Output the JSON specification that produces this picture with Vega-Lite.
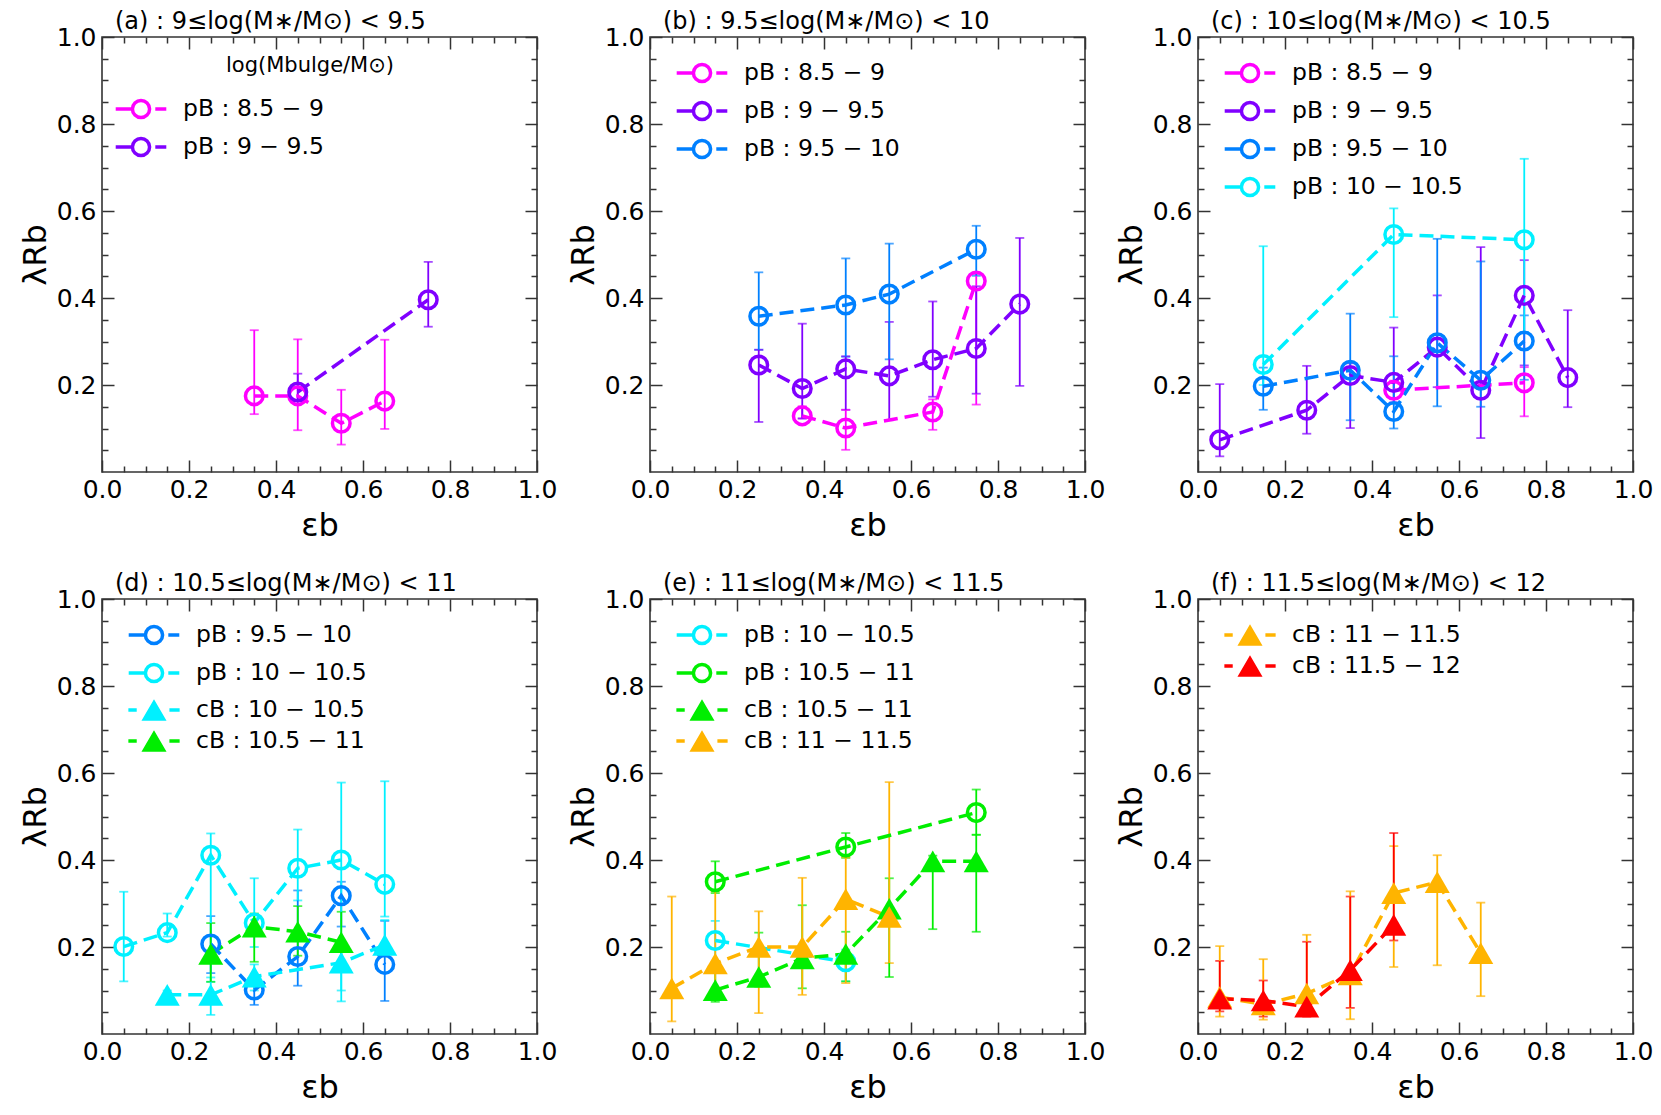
{
  "$schema": "https://vega.github.io/schema/vega-lite/v6.json",
  "background": "white",
  "padding": {"left": 18, "top": 9, "right": 5, "bottom": 5},
  "datasets": {
    "pts": [
      {"p": "a", "s": "pB : 8.5 − 9", "t": "pB", "x": 0.35, "y": 0.175, "lo": 0.133, "hi": 0.326},
      {"p": "a", "s": "pB : 8.5 − 9", "t": "pB", "x": 0.45, "y": 0.175, "lo": 0.096, "hi": 0.305},
      {"p": "a", "s": "pB : 8.5 − 9", "t": "pB", "x": 0.55, "y": 0.112, "lo": 0.063, "hi": 0.189},
      {"p": "a", "s": "pB : 8.5 − 9", "t": "pB", "x": 0.65, "y": 0.163, "lo": 0.099, "hi": 0.304},
      {"p": "a", "s": "pB : 9 − 9.5", "t": "pB", "x": 0.45, "y": 0.184, "lo": 0.163, "hi": 0.226},
      {"p": "a", "s": "pB : 9 − 9.5", "t": "pB", "x": 0.75, "y": 0.396, "lo": 0.334, "hi": 0.483},

      {"p": "b", "s": "pB : 8.5 − 9", "t": "pB", "x": 0.35, "y": 0.129, "lo": 0.123, "hi": 0.151},
      {"p": "b", "s": "pB : 8.5 − 9", "t": "pB", "x": 0.45, "y": 0.101, "lo": 0.051, "hi": 0.143},
      {"p": "b", "s": "pB : 8.5 − 9", "t": "pB", "x": 0.65, "y": 0.138, "lo": 0.097, "hi": 0.167},
      {"p": "b", "s": "pB : 8.5 − 9", "t": "pB", "x": 0.75, "y": 0.439, "lo": 0.155, "hi": 0.455},
      {"p": "b", "s": "pB : 9 − 9.5", "t": "pB", "x": 0.25, "y": 0.246, "lo": 0.115, "hi": 0.281},
      {"p": "b", "s": "pB : 9 − 9.5", "t": "pB", "x": 0.35, "y": 0.192, "lo": 0.123, "hi": 0.341},
      {"p": "b", "s": "pB : 9 − 9.5", "t": "pB", "x": 0.45, "y": 0.237, "lo": 0.143, "hi": 0.266},
      {"p": "b", "s": "pB : 9 − 9.5", "t": "pB", "x": 0.55, "y": 0.221, "lo": 0.119, "hi": 0.345},
      {"p": "b", "s": "pB : 9 − 9.5", "t": "pB", "x": 0.65, "y": 0.258, "lo": 0.173, "hi": 0.392},
      {"p": "b", "s": "pB : 9 − 9.5", "t": "pB", "x": 0.75, "y": 0.284, "lo": 0.18, "hi": 0.427},
      {"p": "b", "s": "pB : 9 − 9.5", "t": "pB", "x": 0.85, "y": 0.386, "lo": 0.198, "hi": 0.538},
      {"p": "b", "s": "pB : 9.5 − 10", "t": "pB", "x": 0.25, "y": 0.358, "lo": 0.281, "hi": 0.459},
      {"p": "b", "s": "pB : 9.5 − 10", "t": "pB", "x": 0.45, "y": 0.384, "lo": 0.265, "hi": 0.491},
      {"p": "b", "s": "pB : 9.5 − 10", "t": "pB", "x": 0.55, "y": 0.409, "lo": 0.259, "hi": 0.525},
      {"p": "b", "s": "pB : 9.5 − 10", "t": "pB", "x": 0.75, "y": 0.512, "lo": 0.451, "hi": 0.566},

      {"p": "c", "s": "pB : 8.5 − 9", "t": "pB", "x": 0.45, "y": 0.188, "lo": 0.16, "hi": 0.21},
      {"p": "c", "s": "pB : 8.5 − 9", "t": "pB", "x": 0.75, "y": 0.205, "lo": 0.128, "hi": 0.241},
      {"p": "c", "s": "pB : 9 − 9.5", "t": "pB", "x": 0.05, "y": 0.074, "lo": 0.036, "hi": 0.202},
      {"p": "c", "s": "pB : 9 − 9.5", "t": "pB", "x": 0.25, "y": 0.142, "lo": 0.088, "hi": 0.244},
      {"p": "c", "s": "pB : 9 − 9.5", "t": "pB", "x": 0.35, "y": 0.222, "lo": 0.101, "hi": 0.25},
      {"p": "c", "s": "pB : 9 − 9.5", "t": "pB", "x": 0.45, "y": 0.206, "lo": 0.17, "hi": 0.332},
      {"p": "c", "s": "pB : 9 − 9.5", "t": "pB", "x": 0.55, "y": 0.287, "lo": 0.195, "hi": 0.406},
      {"p": "c", "s": "pB : 9 − 9.5", "t": "pB", "x": 0.65, "y": 0.188, "lo": 0.078, "hi": 0.517},
      {"p": "c", "s": "pB : 9 − 9.5", "t": "pB", "x": 0.75, "y": 0.406, "lo": 0.245, "hi": 0.487},
      {"p": "c", "s": "pB : 9 − 9.5", "t": "pB", "x": 0.85, "y": 0.217, "lo": 0.149, "hi": 0.372},
      {"p": "c", "s": "pB : 9.5 − 10", "t": "pB", "x": 0.15, "y": 0.197, "lo": 0.143, "hi": 0.24},
      {"p": "c", "s": "pB : 9.5 − 10", "t": "pB", "x": 0.35, "y": 0.234, "lo": 0.119, "hi": 0.364},
      {"p": "c", "s": "pB : 9.5 − 10", "t": "pB", "x": 0.45, "y": 0.139, "lo": 0.1, "hi": 0.266},
      {"p": "c", "s": "pB : 9.5 − 10", "t": "pB", "x": 0.55, "y": 0.297, "lo": 0.151, "hi": 0.536},
      {"p": "c", "s": "pB : 9.5 − 10", "t": "pB", "x": 0.65, "y": 0.211, "lo": 0.15, "hi": 0.484},
      {"p": "c", "s": "pB : 9.5 − 10", "t": "pB", "x": 0.75, "y": 0.301, "lo": 0.212, "hi": 0.36},
      {"p": "c", "s": "pB : 10 − 10.5", "t": "pB", "x": 0.15, "y": 0.247, "lo": 0.2, "hi": 0.519},
      {"p": "c", "s": "pB : 10 − 10.5", "t": "pB", "x": 0.45, "y": 0.546, "lo": 0.356, "hi": 0.606},
      {"p": "c", "s": "pB : 10 − 10.5", "t": "pB", "x": 0.75, "y": 0.534, "lo": 0.322, "hi": 0.72},

      {"p": "d", "s": "pB : 9.5 − 10", "t": "pB", "x": 0.25, "y": 0.207, "lo": 0.14, "hi": 0.271},
      {"p": "d", "s": "pB : 9.5 − 10", "t": "pB", "x": 0.35, "y": 0.101, "lo": 0.067, "hi": 0.13},
      {"p": "d", "s": "pB : 9.5 − 10", "t": "pB", "x": 0.45, "y": 0.178, "lo": 0.111, "hi": 0.33},
      {"p": "d", "s": "pB : 9.5 − 10", "t": "pB", "x": 0.55, "y": 0.318, "lo": 0.247, "hi": 0.35},
      {"p": "d", "s": "pB : 9.5 − 10", "t": "pB", "x": 0.65, "y": 0.16, "lo": 0.076, "hi": 0.26},
      {"p": "d", "s": "pB : 10 − 10.5", "t": "pB", "x": 0.05, "y": 0.201, "lo": 0.121, "hi": 0.327},
      {"p": "d", "s": "pB : 10 − 10.5", "t": "pB", "x": 0.15, "y": 0.233, "lo": 0.224, "hi": 0.277},
      {"p": "d", "s": "pB : 10 − 10.5", "t": "pB", "x": 0.25, "y": 0.411, "lo": 0.12, "hi": 0.461},
      {"p": "d", "s": "pB : 10 − 10.5", "t": "pB", "x": 0.35, "y": 0.255, "lo": 0.2, "hi": 0.358},
      {"p": "d", "s": "pB : 10 − 10.5", "t": "pB", "x": 0.45, "y": 0.381, "lo": 0.307, "hi": 0.47},
      {"p": "d", "s": "pB : 10 − 10.5", "t": "pB", "x": 0.55, "y": 0.4, "lo": 0.075, "hi": 0.578},
      {"p": "d", "s": "pB : 10 − 10.5", "t": "pB", "x": 0.65, "y": 0.344, "lo": 0.27, "hi": 0.581},
      {"p": "d", "s": "cB : 10 − 10.5", "t": "cB", "x": 0.15, "y": 0.09, "lo": 0.08, "hi": 0.1},
      {"p": "d", "s": "cB : 10 − 10.5", "t": "cB", "x": 0.25, "y": 0.09, "lo": 0.044, "hi": 0.13},
      {"p": "d", "s": "cB : 10 − 10.5", "t": "cB", "x": 0.35, "y": 0.132, "lo": 0.1, "hi": 0.16},
      {"p": "d", "s": "cB : 10 − 10.5", "t": "cB", "x": 0.55, "y": 0.164, "lo": 0.1, "hi": 0.2},
      {"p": "d", "s": "cB : 10 − 10.5", "t": "cB", "x": 0.65, "y": 0.205, "lo": 0.18, "hi": 0.262},
      {"p": "d", "s": "cB : 10.5 − 11", "t": "cB", "x": 0.25, "y": 0.184, "lo": 0.12, "hi": 0.255},
      {"p": "d", "s": "cB : 10.5 − 11", "t": "cB", "x": 0.35, "y": 0.247, "lo": 0.166, "hi": 0.277},
      {"p": "d", "s": "cB : 10.5 − 11", "t": "cB", "x": 0.45, "y": 0.235, "lo": 0.18, "hi": 0.294},
      {"p": "d", "s": "cB : 10.5 − 11", "t": "cB", "x": 0.55, "y": 0.211, "lo": 0.151, "hi": 0.281},

      {"p": "e", "s": "pB : 10 − 10.5", "t": "pB", "x": 0.15, "y": 0.215, "lo": 0.14, "hi": 0.26},
      {"p": "e", "s": "pB : 10 − 10.5", "t": "pB", "x": 0.45, "y": 0.166, "lo": 0.121, "hi": 0.194},
      {"p": "e", "s": "pB : 10.5 − 11", "t": "pB", "x": 0.15, "y": 0.35, "lo": 0.324, "hi": 0.397},
      {"p": "e", "s": "pB : 10.5 − 11", "t": "pB", "x": 0.45, "y": 0.43, "lo": 0.405, "hi": 0.462},
      {"p": "e", "s": "pB : 10.5 − 11", "t": "pB", "x": 0.75, "y": 0.509, "lo": 0.458, "hi": 0.562},
      {"p": "e", "s": "cB : 10.5 − 11", "t": "cB", "x": 0.15, "y": 0.101, "lo": 0.074, "hi": 0.142},
      {"p": "e", "s": "cB : 10.5 − 11", "t": "cB", "x": 0.25, "y": 0.131, "lo": 0.109, "hi": 0.233},
      {"p": "e", "s": "cB : 10.5 − 11", "t": "cB", "x": 0.35, "y": 0.174, "lo": 0.105, "hi": 0.296},
      {"p": "e", "s": "cB : 10.5 − 11", "t": "cB", "x": 0.45, "y": 0.184, "lo": 0.121, "hi": 0.235},
      {"p": "e", "s": "cB : 10.5 − 11", "t": "cB", "x": 0.55, "y": 0.288, "lo": 0.131, "hi": 0.358},
      {"p": "e", "s": "cB : 10.5 − 11", "t": "cB", "x": 0.65, "y": 0.397, "lo": 0.241, "hi": 0.41},
      {"p": "e", "s": "cB : 10.5 − 11", "t": "cB", "x": 0.75, "y": 0.397, "lo": 0.235, "hi": 0.458},
      {"p": "e", "s": "cB : 11 − 11.5", "t": "cB", "x": 0.05, "y": 0.105, "lo": 0.029, "hi": 0.316},
      {"p": "e", "s": "cB : 11 − 11.5", "t": "cB", "x": 0.15, "y": 0.162, "lo": 0.107, "hi": 0.328},
      {"p": "e", "s": "cB : 11 − 11.5", "t": "cB", "x": 0.25, "y": 0.2, "lo": 0.048, "hi": 0.282},
      {"p": "e", "s": "cB : 11 − 11.5", "t": "cB", "x": 0.35, "y": 0.2, "lo": 0.09, "hi": 0.359},
      {"p": "e", "s": "cB : 11 − 11.5", "t": "cB", "x": 0.45, "y": 0.31, "lo": 0.117, "hi": 0.406},
      {"p": "e", "s": "cB : 11 − 11.5", "t": "cB", "x": 0.55, "y": 0.269, "lo": 0.163, "hi": 0.579},

      {"p": "f", "s": "cB : 11 − 11.5", "t": "cB", "x": 0.05, "y": 0.085, "lo": 0.04, "hi": 0.202},
      {"p": "f", "s": "cB : 11 − 11.5", "t": "cB", "x": 0.15, "y": 0.068, "lo": 0.033, "hi": 0.172},
      {"p": "f", "s": "cB : 11 − 11.5", "t": "cB", "x": 0.25, "y": 0.093, "lo": 0.056, "hi": 0.228},
      {"p": "f", "s": "cB : 11 − 11.5", "t": "cB", "x": 0.35, "y": 0.137, "lo": 0.034, "hi": 0.328},
      {"p": "f", "s": "cB : 11 − 11.5", "t": "cB", "x": 0.45, "y": 0.324, "lo": 0.154, "hi": 0.432},
      {"p": "f", "s": "cB : 11 − 11.5", "t": "cB", "x": 0.55, "y": 0.349, "lo": 0.158, "hi": 0.411},
      {"p": "f", "s": "cB : 11 − 11.5", "t": "cB", "x": 0.65, "y": 0.186, "lo": 0.087, "hi": 0.302},
      {"p": "f", "s": "cB : 11.5 − 12", "t": "cB", "x": 0.05, "y": 0.081, "lo": 0.052, "hi": 0.168},
      {"p": "f", "s": "cB : 11.5 − 12", "t": "cB", "x": 0.15, "y": 0.077, "lo": 0.04, "hi": 0.123},
      {"p": "f", "s": "cB : 11.5 − 12", "t": "cB", "x": 0.25, "y": 0.063, "lo": 0.04, "hi": 0.212},
      {"p": "f", "s": "cB : 11.5 − 12", "t": "cB", "x": 0.35, "y": 0.147, "lo": 0.06, "hi": 0.316},
      {"p": "f", "s": "cB : 11.5 − 12", "t": "cB", "x": 0.45, "y": 0.251, "lo": 0.215, "hi": 0.462}
    ]
  },
  "data": {"name": "pts"},
  "columns": 3,
  "spacing": {"row": 127, "column": 113},
  "bounds": "flush",
  "concat": [
    {
      "width": 435, "height": 435,
      "title": "(a) : 9≤log(M∗/M⊙) < 9.5",
      "transform": [{"filter": "datum.p === 'a'"}],
      "layer": [
        {"mark": {"type": "errorbar", "ticks": {"size": 9, "thickness": 1.8}, "thickness": 1.8},
         "encoding": {"x": {"field": "x", "type": "quantitative", "scale": {"domain": [0, 1], "nice": false, "zero": false}, "axis": null},
                      "y": {"field": "lo", "type": "quantitative", "scale": {"domain": [0, 1], "nice": false, "zero": false}, "axis": null},
                      "y2": {"field": "hi"},
                      "color": {"field": "s", "type": "nominal", "legend": null, "scale": {"domain": ["pB : 8.5 − 9", "pB : 9 − 9.5", "pB : 9.5 − 10", "pB : 10 − 10.5", "pB : 10.5 − 11", "cB : 10 − 10.5", "cB : 10.5 − 11", "cB : 11 − 11.5", "cB : 11.5 − 12"], "range": ["#ff00ff", "#8000ff", "#0080ff", "#00f0ff", "#00ee00", "#00f0ff", "#00ee00", "#ffb400", "#ff0000"]}}}},
        {"mark": {"type": "line", "strokeWidth": 3.5, "strokeDash": [14, 7]},
         "encoding": {"x": {"field": "x", "type": "quantitative", "axis": {"orient": "bottom", "values": [0, 0.2, 0.4, 0.6, 0.8, 1], "format": ".1f", "title": "εb", "labelPadding": 17, "titlePadding": 8}},
                      "y": {"field": "y", "type": "quantitative", "axis": {"orient": "left", "values": [0.2, 0.4, 0.6, 0.8, 1], "format": ".1f", "title": "λRb", "labelPadding": 18, "titlePadding": 4}},
                      "color": {"field": "s", "type": "nominal", "legend": null, "scale": {"domain": ["pB : 8.5 − 9", "pB : 9 − 9.5", "pB : 9.5 − 10", "pB : 10 − 10.5", "pB : 10.5 − 11", "cB : 10 − 10.5", "cB : 10.5 − 11", "cB : 11 − 11.5", "cB : 11.5 − 12"], "range": ["#ff00ff", "#8000ff", "#0080ff", "#00f0ff", "#00ee00", "#00f0ff", "#00ee00", "#ffb400", "#ff0000"]}}}},
        {"transform": [{"filter": "datum.t === 'pB'"}],
         "mark": {"type": "point", "filled": false, "size": 310, "strokeWidth": 3.5, "opacity": 1},
         "encoding": {"x": {"field": "x", "type": "quantitative", "axis": {"orient": "bottom", "values": [0.05, 0.1, 0.15, 0.25, 0.3, 0.35, 0.45, 0.5, 0.55, 0.65, 0.7, 0.75, 0.85, 0.9, 0.95], "labels": false, "tickSize": -6, "title": null}},
                      "y": {"field": "y", "type": "quantitative", "axis": {"orient": "left", "values": [0.05, 0.1, 0.15, 0.25, 0.3, 0.35, 0.45, 0.5, 0.55, 0.65, 0.7, 0.75, 0.85, 0.9, 0.95], "labels": false, "tickSize": -6, "title": null}},
                      "color": {"field": "s", "type": "nominal", "legend": null, "scale": {"domain": ["pB : 8.5 − 9", "pB : 9 − 9.5", "pB : 9.5 − 10", "pB : 10 − 10.5", "pB : 10.5 − 11", "cB : 10 − 10.5", "cB : 10.5 − 11", "cB : 11 − 11.5", "cB : 11.5 − 12"], "range": ["#ff00ff", "#8000ff", "#0080ff", "#00f0ff", "#00ee00", "#00f0ff", "#00ee00", "#ffb400", "#ff0000"]}}}},
        {"mark": {"type": "point", "opacity": 0},
         "encoding": {"x": {"field": "x", "type": "quantitative", "axis": {"orient": "top", "values": [0, 0.2, 0.4, 0.6, 0.8, 1], "labels": false, "title": null}},
                      "y": {"field": "y", "type": "quantitative", "axis": {"orient": "right", "values": [0.2, 0.4, 0.6, 0.8, 1], "labels": false, "title": null}}}},
        {"mark": {"type": "point", "opacity": 0},
         "encoding": {"x": {"field": "x", "type": "quantitative", "axis": {"orient": "top", "values": [0.05, 0.1, 0.15, 0.25, 0.3, 0.35, 0.45, 0.5, 0.55, 0.65, 0.7, 0.75, 0.85, 0.9, 0.95], "labels": false, "tickSize": -6, "title": null}},
                      "y": {"field": "y", "type": "quantitative", "axis": {"orient": "right", "values": [0.05, 0.1, 0.15, 0.25, 0.3, 0.35, 0.45, 0.5, 0.55, 0.65, 0.7, 0.75, 0.85, 0.9, 0.95], "labels": false, "tickSize": -6, "title": null}}}},
        {"transform": [{"filter": "datum.t === 'pB'"}],
         "mark": {"type": "point", "filled": false, "opacity": 0},
         "encoding": {"x": {"field": "x", "type": "quantitative", "axis": null},
                      "y": {"field": "y", "type": "quantitative", "axis": null},
                      "color": {"field": "s", "type": "nominal",
                                "scale": {"domain": ["pB : 8.5 − 9", "pB : 9 − 9.5", "pB : 9.5 − 10", "pB : 10 − 10.5", "pB : 10.5 − 11", "cB : 10 − 10.5", "cB : 10.5 − 11", "cB : 11 − 11.5", "cB : 11.5 − 12"], "range": ["#ff00ff", "#8000ff", "#0080ff", "#00f0ff", "#00ee00", "#00f0ff", "#00ee00", "#ffb400", "#ff0000"]},
                                "legend": {"values": ["pB : 8.5 − 9", "pB : 9 − 9.5"], "symbolType": "M-2.3,0L-0.78,0M0.78,0A0.78,0.78,0,1,1,-0.78,0A0.78,0.78,0,1,1,0.78,0M1.3,0L2.3,0", "legendX": 26, "legendY": 18, "title": "log(Mbulge/M⊙)"}}}}
      ],
      "resolve": {"scale": {"color": "independent"}, "axis": {"x": "independent", "y": "independent"}}
    },
    {
      "width": 435, "height": 435,
      "title": "(b) : 9.5≤log(M∗/M⊙) < 10",
      "transform": [{"filter": "datum.p === 'b'"}],
      "layer": [
        {"mark": {"type": "errorbar", "ticks": {"size": 9, "thickness": 1.8}, "thickness": 1.8},
         "encoding": {"x": {"field": "x", "type": "quantitative", "scale": {"domain": [0, 1], "nice": false, "zero": false}, "axis": null},
                      "y": {"field": "lo", "type": "quantitative", "scale": {"domain": [0, 1], "nice": false, "zero": false}, "axis": null},
                      "y2": {"field": "hi"},
                      "color": {"field": "s", "type": "nominal", "legend": null, "scale": {"domain": ["pB : 8.5 − 9", "pB : 9 − 9.5", "pB : 9.5 − 10", "pB : 10 − 10.5", "pB : 10.5 − 11", "cB : 10 − 10.5", "cB : 10.5 − 11", "cB : 11 − 11.5", "cB : 11.5 − 12"], "range": ["#ff00ff", "#8000ff", "#0080ff", "#00f0ff", "#00ee00", "#00f0ff", "#00ee00", "#ffb400", "#ff0000"]}}}},
        {"mark": {"type": "line", "strokeWidth": 3.5, "strokeDash": [14, 7]},
         "encoding": {"x": {"field": "x", "type": "quantitative", "axis": {"orient": "bottom", "values": [0, 0.2, 0.4, 0.6, 0.8, 1], "format": ".1f", "title": "εb", "labelPadding": 17, "titlePadding": 8}},
                      "y": {"field": "y", "type": "quantitative", "axis": {"orient": "left", "values": [0.2, 0.4, 0.6, 0.8, 1], "format": ".1f", "title": "λRb", "labelPadding": 18, "titlePadding": 4}},
                      "color": {"field": "s", "type": "nominal", "legend": null, "scale": {"domain": ["pB : 8.5 − 9", "pB : 9 − 9.5", "pB : 9.5 − 10", "pB : 10 − 10.5", "pB : 10.5 − 11", "cB : 10 − 10.5", "cB : 10.5 − 11", "cB : 11 − 11.5", "cB : 11.5 − 12"], "range": ["#ff00ff", "#8000ff", "#0080ff", "#00f0ff", "#00ee00", "#00f0ff", "#00ee00", "#ffb400", "#ff0000"]}}}},
        {"transform": [{"filter": "datum.t === 'pB'"}],
         "mark": {"type": "point", "filled": false, "size": 310, "strokeWidth": 3.5, "opacity": 1},
         "encoding": {"x": {"field": "x", "type": "quantitative", "axis": {"orient": "bottom", "values": [0.05, 0.1, 0.15, 0.25, 0.3, 0.35, 0.45, 0.5, 0.55, 0.65, 0.7, 0.75, 0.85, 0.9, 0.95], "labels": false, "tickSize": -6, "title": null}},
                      "y": {"field": "y", "type": "quantitative", "axis": {"orient": "left", "values": [0.05, 0.1, 0.15, 0.25, 0.3, 0.35, 0.45, 0.5, 0.55, 0.65, 0.7, 0.75, 0.85, 0.9, 0.95], "labels": false, "tickSize": -6, "title": null}},
                      "color": {"field": "s", "type": "nominal", "legend": null, "scale": {"domain": ["pB : 8.5 − 9", "pB : 9 − 9.5", "pB : 9.5 − 10", "pB : 10 − 10.5", "pB : 10.5 − 11", "cB : 10 − 10.5", "cB : 10.5 − 11", "cB : 11 − 11.5", "cB : 11.5 − 12"], "range": ["#ff00ff", "#8000ff", "#0080ff", "#00f0ff", "#00ee00", "#00f0ff", "#00ee00", "#ffb400", "#ff0000"]}}}},
        {"mark": {"type": "point", "opacity": 0},
         "encoding": {"x": {"field": "x", "type": "quantitative", "axis": {"orient": "top", "values": [0, 0.2, 0.4, 0.6, 0.8, 1], "labels": false, "title": null}},
                      "y": {"field": "y", "type": "quantitative", "axis": {"orient": "right", "values": [0.2, 0.4, 0.6, 0.8, 1], "labels": false, "title": null}}}},
        {"mark": {"type": "point", "opacity": 0},
         "encoding": {"x": {"field": "x", "type": "quantitative", "axis": {"orient": "top", "values": [0.05, 0.1, 0.15, 0.25, 0.3, 0.35, 0.45, 0.5, 0.55, 0.65, 0.7, 0.75, 0.85, 0.9, 0.95], "labels": false, "tickSize": -6, "title": null}},
                      "y": {"field": "y", "type": "quantitative", "axis": {"orient": "right", "values": [0.05, 0.1, 0.15, 0.25, 0.3, 0.35, 0.45, 0.5, 0.55, 0.65, 0.7, 0.75, 0.85, 0.9, 0.95], "labels": false, "tickSize": -6, "title": null}}}},
        {"transform": [{"filter": "datum.t === 'pB'"}],
         "mark": {"type": "point", "filled": false, "opacity": 0},
         "encoding": {"x": {"field": "x", "type": "quantitative", "axis": null},
                      "y": {"field": "y", "type": "quantitative", "axis": null},
                      "color": {"field": "s", "type": "nominal",
                                "scale": {"domain": ["pB : 8.5 − 9", "pB : 9 − 9.5", "pB : 9.5 − 10", "pB : 10 − 10.5", "pB : 10.5 − 11", "cB : 10 − 10.5", "cB : 10.5 − 11", "cB : 11 − 11.5", "cB : 11.5 − 12"], "range": ["#ff00ff", "#8000ff", "#0080ff", "#00f0ff", "#00ee00", "#00f0ff", "#00ee00", "#ffb400", "#ff0000"]},
                                "legend": {"values": ["pB : 8.5 − 9", "pB : 9 − 9.5", "pB : 9.5 − 10"], "symbolType": "M-2.3,0L-0.78,0M0.78,0A0.78,0.78,0,1,1,-0.78,0A0.78,0.78,0,1,1,0.78,0M1.3,0L2.3,0", "legendX": 39, "legendY": 23, "title": null}}}}
      ],
      "resolve": {"scale": {"color": "independent"}, "axis": {"x": "independent", "y": "independent"}}
    },
    {
      "width": 435, "height": 435,
      "title": "(c) : 10≤log(M∗/M⊙) < 10.5",
      "transform": [{"filter": "datum.p === 'c'"}],
      "layer": [
        {"mark": {"type": "errorbar", "ticks": {"size": 9, "thickness": 1.8}, "thickness": 1.8},
         "encoding": {"x": {"field": "x", "type": "quantitative", "scale": {"domain": [0, 1], "nice": false, "zero": false}, "axis": null},
                      "y": {"field": "lo", "type": "quantitative", "scale": {"domain": [0, 1], "nice": false, "zero": false}, "axis": null},
                      "y2": {"field": "hi"},
                      "color": {"field": "s", "type": "nominal", "legend": null, "scale": {"domain": ["pB : 8.5 − 9", "pB : 9 − 9.5", "pB : 9.5 − 10", "pB : 10 − 10.5", "pB : 10.5 − 11", "cB : 10 − 10.5", "cB : 10.5 − 11", "cB : 11 − 11.5", "cB : 11.5 − 12"], "range": ["#ff00ff", "#8000ff", "#0080ff", "#00f0ff", "#00ee00", "#00f0ff", "#00ee00", "#ffb400", "#ff0000"]}}}},
        {"mark": {"type": "line", "strokeWidth": 3.5, "strokeDash": [14, 7]},
         "encoding": {"x": {"field": "x", "type": "quantitative", "axis": {"orient": "bottom", "values": [0, 0.2, 0.4, 0.6, 0.8, 1], "format": ".1f", "title": "εb", "labelPadding": 17, "titlePadding": 8}},
                      "y": {"field": "y", "type": "quantitative", "axis": {"orient": "left", "values": [0.2, 0.4, 0.6, 0.8, 1], "format": ".1f", "title": "λRb", "labelPadding": 18, "titlePadding": 4}},
                      "color": {"field": "s", "type": "nominal", "legend": null, "scale": {"domain": ["pB : 8.5 − 9", "pB : 9 − 9.5", "pB : 9.5 − 10", "pB : 10 − 10.5", "pB : 10.5 − 11", "cB : 10 − 10.5", "cB : 10.5 − 11", "cB : 11 − 11.5", "cB : 11.5 − 12"], "range": ["#ff00ff", "#8000ff", "#0080ff", "#00f0ff", "#00ee00", "#00f0ff", "#00ee00", "#ffb400", "#ff0000"]}}}},
        {"transform": [{"filter": "datum.t === 'pB'"}],
         "mark": {"type": "point", "filled": false, "size": 310, "strokeWidth": 3.5, "opacity": 1},
         "encoding": {"x": {"field": "x", "type": "quantitative", "axis": {"orient": "bottom", "values": [0.05, 0.1, 0.15, 0.25, 0.3, 0.35, 0.45, 0.5, 0.55, 0.65, 0.7, 0.75, 0.85, 0.9, 0.95], "labels": false, "tickSize": -6, "title": null}},
                      "y": {"field": "y", "type": "quantitative", "axis": {"orient": "left", "values": [0.05, 0.1, 0.15, 0.25, 0.3, 0.35, 0.45, 0.5, 0.55, 0.65, 0.7, 0.75, 0.85, 0.9, 0.95], "labels": false, "tickSize": -6, "title": null}},
                      "color": {"field": "s", "type": "nominal", "legend": null, "scale": {"domain": ["pB : 8.5 − 9", "pB : 9 − 9.5", "pB : 9.5 − 10", "pB : 10 − 10.5", "pB : 10.5 − 11", "cB : 10 − 10.5", "cB : 10.5 − 11", "cB : 11 − 11.5", "cB : 11.5 − 12"], "range": ["#ff00ff", "#8000ff", "#0080ff", "#00f0ff", "#00ee00", "#00f0ff", "#00ee00", "#ffb400", "#ff0000"]}}}},
        {"mark": {"type": "point", "opacity": 0},
         "encoding": {"x": {"field": "x", "type": "quantitative", "axis": {"orient": "top", "values": [0, 0.2, 0.4, 0.6, 0.8, 1], "labels": false, "title": null}},
                      "y": {"field": "y", "type": "quantitative", "axis": {"orient": "right", "values": [0.2, 0.4, 0.6, 0.8, 1], "labels": false, "title": null}}}},
        {"mark": {"type": "point", "opacity": 0},
         "encoding": {"x": {"field": "x", "type": "quantitative", "axis": {"orient": "top", "values": [0.05, 0.1, 0.15, 0.25, 0.3, 0.35, 0.45, 0.5, 0.55, 0.65, 0.7, 0.75, 0.85, 0.9, 0.95], "labels": false, "tickSize": -6, "title": null}},
                      "y": {"field": "y", "type": "quantitative", "axis": {"orient": "right", "values": [0.05, 0.1, 0.15, 0.25, 0.3, 0.35, 0.45, 0.5, 0.55, 0.65, 0.7, 0.75, 0.85, 0.9, 0.95], "labels": false, "tickSize": -6, "title": null}}}},
        {"transform": [{"filter": "datum.t === 'pB'"}],
         "mark": {"type": "point", "filled": false, "opacity": 0},
         "encoding": {"x": {"field": "x", "type": "quantitative", "axis": null},
                      "y": {"field": "y", "type": "quantitative", "axis": null},
                      "color": {"field": "s", "type": "nominal",
                                "scale": {"domain": ["pB : 8.5 − 9", "pB : 9 − 9.5", "pB : 9.5 − 10", "pB : 10 − 10.5", "pB : 10.5 − 11", "cB : 10 − 10.5", "cB : 10.5 − 11", "cB : 11 − 11.5", "cB : 11.5 − 12"], "range": ["#ff00ff", "#8000ff", "#0080ff", "#00f0ff", "#00ee00", "#00f0ff", "#00ee00", "#ffb400", "#ff0000"]},
                                "legend": {"values": ["pB : 8.5 − 9", "pB : 9 − 9.5", "pB : 9.5 − 10", "pB : 10 − 10.5"], "symbolType": "M-2.3,0L-0.78,0M0.78,0A0.78,0.78,0,1,1,-0.78,0A0.78,0.78,0,1,1,0.78,0M1.3,0L2.3,0", "legendX": 39, "legendY": 23, "title": null}}}}
      ],
      "resolve": {"scale": {"color": "independent"}, "axis": {"x": "independent", "y": "independent"}}
    },
    {
      "width": 435, "height": 435,
      "title": "(d) : 10.5≤log(M∗/M⊙) < 11",
      "transform": [{"filter": "datum.p === 'd'"}],
      "layer": [
        {"mark": {"type": "errorbar", "ticks": {"size": 9, "thickness": 1.8}, "thickness": 1.8},
         "encoding": {"x": {"field": "x", "type": "quantitative", "scale": {"domain": [0, 1], "nice": false, "zero": false}, "axis": null},
                      "y": {"field": "lo", "type": "quantitative", "scale": {"domain": [0, 1], "nice": false, "zero": false}, "axis": null},
                      "y2": {"field": "hi"},
                      "color": {"field": "s", "type": "nominal", "legend": null, "scale": {"domain": ["pB : 8.5 − 9", "pB : 9 − 9.5", "pB : 9.5 − 10", "pB : 10 − 10.5", "pB : 10.5 − 11", "cB : 10 − 10.5", "cB : 10.5 − 11", "cB : 11 − 11.5", "cB : 11.5 − 12"], "range": ["#ff00ff", "#8000ff", "#0080ff", "#00f0ff", "#00ee00", "#00f0ff", "#00ee00", "#ffb400", "#ff0000"]}}}},
        {"mark": {"type": "line", "strokeWidth": 3.5, "strokeDash": [14, 7]},
         "encoding": {"x": {"field": "x", "type": "quantitative", "axis": {"orient": "bottom", "values": [0, 0.2, 0.4, 0.6, 0.8, 1], "format": ".1f", "title": "εb", "labelPadding": 17, "titlePadding": 8}},
                      "y": {"field": "y", "type": "quantitative", "axis": {"orient": "left", "values": [0.2, 0.4, 0.6, 0.8, 1], "format": ".1f", "title": "λRb", "labelPadding": 18, "titlePadding": 4}},
                      "color": {"field": "s", "type": "nominal", "legend": null, "scale": {"domain": ["pB : 8.5 − 9", "pB : 9 − 9.5", "pB : 9.5 − 10", "pB : 10 − 10.5", "pB : 10.5 − 11", "cB : 10 − 10.5", "cB : 10.5 − 11", "cB : 11 − 11.5", "cB : 11.5 − 12"], "range": ["#ff00ff", "#8000ff", "#0080ff", "#00f0ff", "#00ee00", "#00f0ff", "#00ee00", "#ffb400", "#ff0000"]}}}},
        {"transform": [{"filter": "datum.t === 'pB'"}],
         "mark": {"type": "point", "filled": false, "size": 310, "strokeWidth": 3.5, "opacity": 1},
         "encoding": {"x": {"field": "x", "type": "quantitative", "axis": {"orient": "bottom", "values": [0.05, 0.1, 0.15, 0.25, 0.3, 0.35, 0.45, 0.5, 0.55, 0.65, 0.7, 0.75, 0.85, 0.9, 0.95], "labels": false, "tickSize": -6, "title": null}},
                      "y": {"field": "y", "type": "quantitative", "axis": {"orient": "left", "values": [0.05, 0.1, 0.15, 0.25, 0.3, 0.35, 0.45, 0.5, 0.55, 0.65, 0.7, 0.75, 0.85, 0.9, 0.95], "labels": false, "tickSize": -6, "title": null}},
                      "color": {"field": "s", "type": "nominal", "legend": null, "scale": {"domain": ["pB : 8.5 − 9", "pB : 9 − 9.5", "pB : 9.5 − 10", "pB : 10 − 10.5", "pB : 10.5 − 11", "cB : 10 − 10.5", "cB : 10.5 − 11", "cB : 11 − 11.5", "cB : 11.5 − 12"], "range": ["#ff00ff", "#8000ff", "#0080ff", "#00f0ff", "#00ee00", "#00f0ff", "#00ee00", "#ffb400", "#ff0000"]}}}},
        {"transform": [{"filter": "datum.t === 'cB'"}],
         "mark": {"type": "point", "shape": "triangle-up", "filled": true, "size": 625, "opacity": 1},
         "encoding": {"x": {"field": "x", "type": "quantitative", "axis": {"orient": "top", "values": [0, 0.2, 0.4, 0.6, 0.8, 1], "labels": false, "title": null}},
                      "y": {"field": "y", "type": "quantitative", "axis": {"orient": "right", "values": [0.2, 0.4, 0.6, 0.8, 1], "labels": false, "title": null}},
                      "color": {"field": "s", "type": "nominal", "legend": null, "scale": {"domain": ["pB : 8.5 − 9", "pB : 9 − 9.5", "pB : 9.5 − 10", "pB : 10 − 10.5", "pB : 10.5 − 11", "cB : 10 − 10.5", "cB : 10.5 − 11", "cB : 11 − 11.5", "cB : 11.5 − 12"], "range": ["#ff00ff", "#8000ff", "#0080ff", "#00f0ff", "#00ee00", "#00f0ff", "#00ee00", "#ffb400", "#ff0000"]}}}},
        {"mark": {"type": "point", "opacity": 0},
         "encoding": {"x": {"field": "x", "type": "quantitative", "axis": {"orient": "top", "values": [0.05, 0.1, 0.15, 0.25, 0.3, 0.35, 0.45, 0.5, 0.55, 0.65, 0.7, 0.75, 0.85, 0.9, 0.95], "labels": false, "tickSize": -6, "title": null}},
                      "y": {"field": "y", "type": "quantitative", "axis": {"orient": "right", "values": [0.05, 0.1, 0.15, 0.25, 0.3, 0.35, 0.45, 0.5, 0.55, 0.65, 0.7, 0.75, 0.85, 0.9, 0.95], "labels": false, "tickSize": -6, "title": null}}}},
        {"transform": [{"filter": "datum.t === 'pB'"}],
         "mark": {"type": "point", "filled": false, "opacity": 0},
         "encoding": {"x": {"field": "x", "type": "quantitative", "axis": null},
                      "y": {"field": "y", "type": "quantitative", "axis": null},
                      "color": {"field": "s", "type": "nominal",
                                "scale": {"domain": ["pB : 8.5 − 9", "pB : 9 − 9.5", "pB : 9.5 − 10", "pB : 10 − 10.5", "pB : 10.5 − 11", "cB : 10 − 10.5", "cB : 10.5 − 11", "cB : 11 − 11.5", "cB : 11.5 − 12"], "range": ["#ff00ff", "#8000ff", "#0080ff", "#00f0ff", "#00ee00", "#00f0ff", "#00ee00", "#ffb400", "#ff0000"]},
                                "legend": {"values": ["pB : 9.5 − 10", "pB : 10 − 10.5"], "symbolType": "M-2.3,0L-0.78,0M0.78,0A0.78,0.78,0,1,1,-0.78,0A0.78,0.78,0,1,1,0.78,0M1.3,0L2.3,0", "legendX": 39, "legendY": 23, "title": null}}}},
        {"transform": [{"filter": "datum.t === 'cB'"}],
         "mark": {"type": "point", "filled": true, "opacity": 0},
         "encoding": {"x": {"field": "x", "type": "quantitative", "axis": null},
                      "y": {"field": "y", "type": "quantitative", "axis": null},
                      "color": {"field": "s", "type": "nominal",
                                "scale": {"domain": ["pB : 8.5 − 9", "pB : 9 − 9.5", "pB : 9.5 − 10", "pB : 10 − 10.5", "pB : 10.5 − 11", "cB : 10 − 10.5", "cB : 10.5 − 11", "cB : 11 − 11.5", "cB : 11.5 − 12"], "range": ["#ff00ff", "#8000ff", "#0080ff", "#00f0ff", "#00ee00", "#00f0ff", "#00ee00", "#ffb400", "#ff0000"]},
                                "legend": {"values": ["cB : 10 − 10.5", "cB : 10.5 − 11"], "symbolType": "M-2.33,-0.16L-1.57,-0.16L-1.57,0.16L-2.33,0.16ZM0,-0.98L1.14,0.98L-1.14,0.98ZM1.4,-0.16L2.33,-0.16L2.33,0.16L1.4,0.16Z", "legendX": 39, "legendY": 98, "title": null}}}}
      ],
      "resolve": {"scale": {"color": "independent"}, "axis": {"x": "independent", "y": "independent"}}
    },
    {
      "width": 435, "height": 435,
      "title": "(e) : 11≤log(M∗/M⊙) < 11.5",
      "transform": [{"filter": "datum.p === 'e'"}],
      "layer": [
        {"mark": {"type": "errorbar", "ticks": {"size": 9, "thickness": 1.8}, "thickness": 1.8},
         "encoding": {"x": {"field": "x", "type": "quantitative", "scale": {"domain": [0, 1], "nice": false, "zero": false}, "axis": null},
                      "y": {"field": "lo", "type": "quantitative", "scale": {"domain": [0, 1], "nice": false, "zero": false}, "axis": null},
                      "y2": {"field": "hi"},
                      "color": {"field": "s", "type": "nominal", "legend": null, "scale": {"domain": ["pB : 8.5 − 9", "pB : 9 − 9.5", "pB : 9.5 − 10", "pB : 10 − 10.5", "pB : 10.5 − 11", "cB : 10 − 10.5", "cB : 10.5 − 11", "cB : 11 − 11.5", "cB : 11.5 − 12"], "range": ["#ff00ff", "#8000ff", "#0080ff", "#00f0ff", "#00ee00", "#00f0ff", "#00ee00", "#ffb400", "#ff0000"]}}}},
        {"mark": {"type": "line", "strokeWidth": 3.5, "strokeDash": [14, 7]},
         "encoding": {"x": {"field": "x", "type": "quantitative", "axis": {"orient": "bottom", "values": [0, 0.2, 0.4, 0.6, 0.8, 1], "format": ".1f", "title": "εb", "labelPadding": 17, "titlePadding": 8}},
                      "y": {"field": "y", "type": "quantitative", "axis": {"orient": "left", "values": [0.2, 0.4, 0.6, 0.8, 1], "format": ".1f", "title": "λRb", "labelPadding": 18, "titlePadding": 4}},
                      "color": {"field": "s", "type": "nominal", "legend": null, "scale": {"domain": ["pB : 8.5 − 9", "pB : 9 − 9.5", "pB : 9.5 − 10", "pB : 10 − 10.5", "pB : 10.5 − 11", "cB : 10 − 10.5", "cB : 10.5 − 11", "cB : 11 − 11.5", "cB : 11.5 − 12"], "range": ["#ff00ff", "#8000ff", "#0080ff", "#00f0ff", "#00ee00", "#00f0ff", "#00ee00", "#ffb400", "#ff0000"]}}}},
        {"transform": [{"filter": "datum.t === 'pB'"}],
         "mark": {"type": "point", "filled": false, "size": 310, "strokeWidth": 3.5, "opacity": 1},
         "encoding": {"x": {"field": "x", "type": "quantitative", "axis": {"orient": "bottom", "values": [0.05, 0.1, 0.15, 0.25, 0.3, 0.35, 0.45, 0.5, 0.55, 0.65, 0.7, 0.75, 0.85, 0.9, 0.95], "labels": false, "tickSize": -6, "title": null}},
                      "y": {"field": "y", "type": "quantitative", "axis": {"orient": "left", "values": [0.05, 0.1, 0.15, 0.25, 0.3, 0.35, 0.45, 0.5, 0.55, 0.65, 0.7, 0.75, 0.85, 0.9, 0.95], "labels": false, "tickSize": -6, "title": null}},
                      "color": {"field": "s", "type": "nominal", "legend": null, "scale": {"domain": ["pB : 8.5 − 9", "pB : 9 − 9.5", "pB : 9.5 − 10", "pB : 10 − 10.5", "pB : 10.5 − 11", "cB : 10 − 10.5", "cB : 10.5 − 11", "cB : 11 − 11.5", "cB : 11.5 − 12"], "range": ["#ff00ff", "#8000ff", "#0080ff", "#00f0ff", "#00ee00", "#00f0ff", "#00ee00", "#ffb400", "#ff0000"]}}}},
        {"transform": [{"filter": "datum.t === 'cB'"}],
         "mark": {"type": "point", "shape": "triangle-up", "filled": true, "size": 625, "opacity": 1},
         "encoding": {"x": {"field": "x", "type": "quantitative", "axis": {"orient": "top", "values": [0, 0.2, 0.4, 0.6, 0.8, 1], "labels": false, "title": null}},
                      "y": {"field": "y", "type": "quantitative", "axis": {"orient": "right", "values": [0.2, 0.4, 0.6, 0.8, 1], "labels": false, "title": null}},
                      "color": {"field": "s", "type": "nominal", "legend": null, "scale": {"domain": ["pB : 8.5 − 9", "pB : 9 − 9.5", "pB : 9.5 − 10", "pB : 10 − 10.5", "pB : 10.5 − 11", "cB : 10 − 10.5", "cB : 10.5 − 11", "cB : 11 − 11.5", "cB : 11.5 − 12"], "range": ["#ff00ff", "#8000ff", "#0080ff", "#00f0ff", "#00ee00", "#00f0ff", "#00ee00", "#ffb400", "#ff0000"]}}}},
        {"mark": {"type": "point", "opacity": 0},
         "encoding": {"x": {"field": "x", "type": "quantitative", "axis": {"orient": "top", "values": [0.05, 0.1, 0.15, 0.25, 0.3, 0.35, 0.45, 0.5, 0.55, 0.65, 0.7, 0.75, 0.85, 0.9, 0.95], "labels": false, "tickSize": -6, "title": null}},
                      "y": {"field": "y", "type": "quantitative", "axis": {"orient": "right", "values": [0.05, 0.1, 0.15, 0.25, 0.3, 0.35, 0.45, 0.5, 0.55, 0.65, 0.7, 0.75, 0.85, 0.9, 0.95], "labels": false, "tickSize": -6, "title": null}}}},
        {"transform": [{"filter": "datum.t === 'pB'"}],
         "mark": {"type": "point", "filled": false, "opacity": 0},
         "encoding": {"x": {"field": "x", "type": "quantitative", "axis": null},
                      "y": {"field": "y", "type": "quantitative", "axis": null},
                      "color": {"field": "s", "type": "nominal",
                                "scale": {"domain": ["pB : 8.5 − 9", "pB : 9 − 9.5", "pB : 9.5 − 10", "pB : 10 − 10.5", "pB : 10.5 − 11", "cB : 10 − 10.5", "cB : 10.5 − 11", "cB : 11 − 11.5", "cB : 11.5 − 12"], "range": ["#ff00ff", "#8000ff", "#0080ff", "#00f0ff", "#00ee00", "#00f0ff", "#00ee00", "#ffb400", "#ff0000"]},
                                "legend": {"values": ["pB : 10 − 10.5", "pB : 10.5 − 11"], "symbolType": "M-2.3,0L-0.78,0M0.78,0A0.78,0.78,0,1,1,-0.78,0A0.78,0.78,0,1,1,0.78,0M1.3,0L2.3,0", "legendX": 39, "legendY": 23, "title": null}}}},
        {"transform": [{"filter": "datum.t === 'cB'"}],
         "mark": {"type": "point", "filled": true, "opacity": 0},
         "encoding": {"x": {"field": "x", "type": "quantitative", "axis": null},
                      "y": {"field": "y", "type": "quantitative", "axis": null},
                      "color": {"field": "s", "type": "nominal",
                                "scale": {"domain": ["pB : 8.5 − 9", "pB : 9 − 9.5", "pB : 9.5 − 10", "pB : 10 − 10.5", "pB : 10.5 − 11", "cB : 10 − 10.5", "cB : 10.5 − 11", "cB : 11 − 11.5", "cB : 11.5 − 12"], "range": ["#ff00ff", "#8000ff", "#0080ff", "#00f0ff", "#00ee00", "#00f0ff", "#00ee00", "#ffb400", "#ff0000"]},
                                "legend": {"values": ["cB : 10.5 − 11", "cB : 11 − 11.5"], "symbolType": "M-2.33,-0.16L-1.57,-0.16L-1.57,0.16L-2.33,0.16ZM0,-0.98L1.14,0.98L-1.14,0.98ZM1.4,-0.16L2.33,-0.16L2.33,0.16L1.4,0.16Z", "legendX": 39, "legendY": 98, "title": null}}}}
      ],
      "resolve": {"scale": {"color": "independent"}, "axis": {"x": "independent", "y": "independent"}}
    },
    {
      "width": 435, "height": 435,
      "title": "(f) : 11.5≤log(M∗/M⊙) < 12",
      "transform": [{"filter": "datum.p === 'f'"}],
      "layer": [
        {"mark": {"type": "errorbar", "ticks": {"size": 9, "thickness": 1.8}, "thickness": 1.8},
         "encoding": {"x": {"field": "x", "type": "quantitative", "scale": {"domain": [0, 1], "nice": false, "zero": false}, "axis": null},
                      "y": {"field": "lo", "type": "quantitative", "scale": {"domain": [0, 1], "nice": false, "zero": false}, "axis": null},
                      "y2": {"field": "hi"},
                      "color": {"field": "s", "type": "nominal", "legend": null, "scale": {"domain": ["pB : 8.5 − 9", "pB : 9 − 9.5", "pB : 9.5 − 10", "pB : 10 − 10.5", "pB : 10.5 − 11", "cB : 10 − 10.5", "cB : 10.5 − 11", "cB : 11 − 11.5", "cB : 11.5 − 12"], "range": ["#ff00ff", "#8000ff", "#0080ff", "#00f0ff", "#00ee00", "#00f0ff", "#00ee00", "#ffb400", "#ff0000"]}}}},
        {"mark": {"type": "line", "strokeWidth": 3.5, "strokeDash": [14, 7]},
         "encoding": {"x": {"field": "x", "type": "quantitative", "axis": {"orient": "bottom", "values": [0, 0.2, 0.4, 0.6, 0.8, 1], "format": ".1f", "title": "εb", "labelPadding": 17, "titlePadding": 8}},
                      "y": {"field": "y", "type": "quantitative", "axis": {"orient": "left", "values": [0.2, 0.4, 0.6, 0.8, 1], "format": ".1f", "title": "λRb", "labelPadding": 18, "titlePadding": 4}},
                      "color": {"field": "s", "type": "nominal", "legend": null, "scale": {"domain": ["pB : 8.5 − 9", "pB : 9 − 9.5", "pB : 9.5 − 10", "pB : 10 − 10.5", "pB : 10.5 − 11", "cB : 10 − 10.5", "cB : 10.5 − 11", "cB : 11 − 11.5", "cB : 11.5 − 12"], "range": ["#ff00ff", "#8000ff", "#0080ff", "#00f0ff", "#00ee00", "#00f0ff", "#00ee00", "#ffb400", "#ff0000"]}}}},
        {"mark": {"type": "point", "opacity": 0},
         "encoding": {"x": {"field": "x", "type": "quantitative", "axis": {"orient": "bottom", "values": [0.05, 0.1, 0.15, 0.25, 0.3, 0.35, 0.45, 0.5, 0.55, 0.65, 0.7, 0.75, 0.85, 0.9, 0.95], "labels": false, "tickSize": -6, "title": null}},
                      "y": {"field": "y", "type": "quantitative", "axis": {"orient": "left", "values": [0.05, 0.1, 0.15, 0.25, 0.3, 0.35, 0.45, 0.5, 0.55, 0.65, 0.7, 0.75, 0.85, 0.9, 0.95], "labels": false, "tickSize": -6, "title": null}}}},
        {"transform": [{"filter": "datum.t === 'cB'"}],
         "mark": {"type": "point", "shape": "triangle-up", "filled": true, "size": 625, "opacity": 1},
         "encoding": {"x": {"field": "x", "type": "quantitative", "axis": {"orient": "top", "values": [0, 0.2, 0.4, 0.6, 0.8, 1], "labels": false, "title": null}},
                      "y": {"field": "y", "type": "quantitative", "axis": {"orient": "right", "values": [0.2, 0.4, 0.6, 0.8, 1], "labels": false, "title": null}},
                      "color": {"field": "s", "type": "nominal", "legend": null, "scale": {"domain": ["pB : 8.5 − 9", "pB : 9 − 9.5", "pB : 9.5 − 10", "pB : 10 − 10.5", "pB : 10.5 − 11", "cB : 10 − 10.5", "cB : 10.5 − 11", "cB : 11 − 11.5", "cB : 11.5 − 12"], "range": ["#ff00ff", "#8000ff", "#0080ff", "#00f0ff", "#00ee00", "#00f0ff", "#00ee00", "#ffb400", "#ff0000"]}}}},
        {"mark": {"type": "point", "opacity": 0},
         "encoding": {"x": {"field": "x", "type": "quantitative", "axis": {"orient": "top", "values": [0.05, 0.1, 0.15, 0.25, 0.3, 0.35, 0.45, 0.5, 0.55, 0.65, 0.7, 0.75, 0.85, 0.9, 0.95], "labels": false, "tickSize": -6, "title": null}},
                      "y": {"field": "y", "type": "quantitative", "axis": {"orient": "right", "values": [0.05, 0.1, 0.15, 0.25, 0.3, 0.35, 0.45, 0.5, 0.55, 0.65, 0.7, 0.75, 0.85, 0.9, 0.95], "labels": false, "tickSize": -6, "title": null}}}},
        {"transform": [{"filter": "datum.t === 'cB'"}],
         "mark": {"type": "point", "filled": true, "opacity": 0},
         "encoding": {"x": {"field": "x", "type": "quantitative", "axis": null},
                      "y": {"field": "y", "type": "quantitative", "axis": null},
                      "color": {"field": "s", "type": "nominal",
                                "scale": {"domain": ["pB : 8.5 − 9", "pB : 9 − 9.5", "pB : 9.5 − 10", "pB : 10 − 10.5", "pB : 10.5 − 11", "cB : 10 − 10.5", "cB : 10.5 − 11", "cB : 11 − 11.5", "cB : 11.5 − 12"], "range": ["#ff00ff", "#8000ff", "#0080ff", "#00f0ff", "#00ee00", "#00f0ff", "#00ee00", "#ffb400", "#ff0000"]},
                                "legend": {"values": ["cB : 11 − 11.5", "cB : 11.5 − 12"], "symbolType": "M-2.33,-0.16L-1.57,-0.16L-1.57,0.16L-2.33,0.16ZM0,-0.98L1.14,0.98L-1.14,0.98ZM1.4,-0.16L2.33,-0.16L2.33,0.16L1.4,0.16Z", "legendX": 39, "legendY": 23, "title": null}}}}
      ],
      "resolve": {"scale": {"color": "independent"}, "axis": {"x": "independent", "y": "independent"}}
    }
  ],
  "config": {
    "font": "DejaVu Sans",
    "view": {"stroke": "#333333", "strokeWidth": 1.6},
    "axis": {
      "domain": false,
      "grid": false,
      "tickSize": -12,
      "tickWidth": 1.5,
      "tickColor": "#333333",
      "labelFont": "DejaVu Sans",
      "labelFontSize": 25,
      "labelColor": "#000000",
      "labelFlush": false,
      "labelOverlap": false,
      "labelBound": false,
      "titleFont": "DejaVu Sans",
      "titleFontSize": 32,
      "titleFontWeight": "normal",
      "titleColor": "#000000"
    },
    "legend": {
      "orient": "none",
      "direction": "vertical",
      "padding": 0,
      "labelFont": "DejaVu Sans",
      "labelFontSize": 23.5,
      "labelColor": "#000000",
      "labelOffset": 29,
      "labelLimit": 400,
      "symbolSize": 484,
      "symbolStrokeWidth": 3.5,
      "symbolOpacity": 1,
      "rowPadding": 6,
      "titleFont": "DejaVu Sans",
      "titleFontSize": 21,
      "titleFontWeight": "normal",
      "titleColor": "#000000",
      "titleAnchor": "middle",
      "titleAlign": "left",
      "titlePadding": 20,
      "titleLimit": 400
    },
    "title": {
      "font": "DejaVu Sans",
      "fontSize": 24,
      "fontWeight": "normal",
      "color": "#000000",
      "anchor": "start",
      "frame": "group",
      "dx": 13,
      "offset": -9
    }
  }
}
